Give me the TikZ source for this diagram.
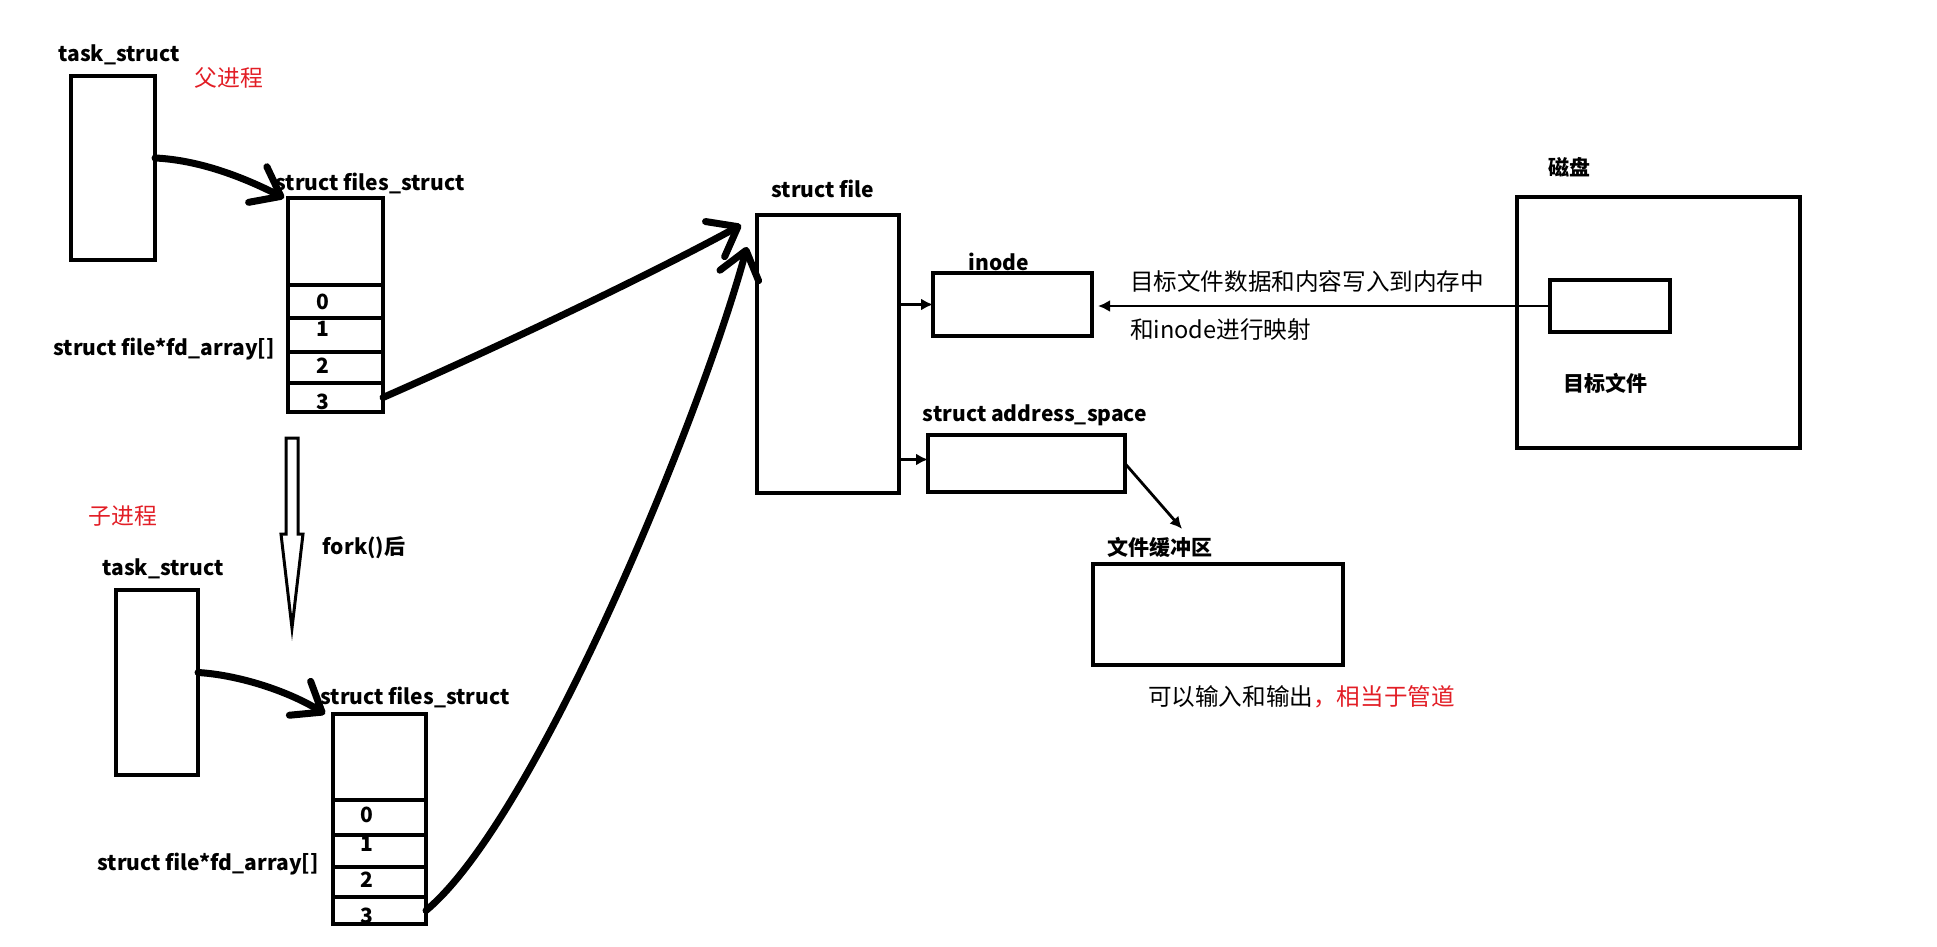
\documentclass[tikz,border=0pt]{standalone}
\usepackage{fontspec}
\setmainfont{Noto Sans CJK SC}
\usetikzlibrary{arrows.meta,positioning}
\definecolor{notered}{RGB}{226,30,38}

\begin{document}
\begin{tikzpicture}[x=0.5pt, y=-0.5pt,
	every node/.style={inner sep=0pt, outer sep=0pt},
	box/.style={draw, line width=1.8pt, anchor=north west},
	cell/.style={draw, line width=1.8pt, below=0pt of #1},
	lbl/.style={font=\bfseries\fontsize{10.5}{12}\selectfont},
	note/.style={font=\fontsize{11.8}{14}\selectfont, anchor=west},
	redlbl/.style={text=notered, font=\fontsize{11.4}{14}\selectfont},
	hand/.style={line width=3.5pt, line cap=round, line join=round, -{Straight Barb[round, length=13pt, width=20pt]}},
	thin/.style={line width=1.4pt, -{Latex[length=6pt, width=6pt]}},
	hollow/.style={line width=1.5pt, line join=miter}]
	\useasboundingbox (0,0) rectangle (1937,947);

	\node[lbl] (ts1lbl) at (119,55) {task\_struct};
	\node[box, minimum width=42pt, minimum height=92pt] (ts1) at (71,76) {};
	\node[redlbl] (parent) at (229,78) {父进程};
	\node[lbl] (fs1lbl) at (370,183) {struct files\_struct};
	\node[box, minimum width=47.5pt, minimum height=43.5pt] (fs1) at (288,198) {};
	\node[lbl] (p0n) at (323,302) {0};
	\node[lbl] (p1n) at (323,329) {1};
	\node[lbl] (p2n) at (323,366) {2};
	\node[lbl] (p3n) at (323,402) {3};
	\node[cell=fs1, minimum width=47.5pt, minimum height=16.5pt] (p0) {};
	\node[cell=p0, minimum width=47.5pt, minimum height=17pt] (p1) {};
	\node[cell=p1, minimum width=47.5pt, minimum height=15.5pt] (p2) {};
	\node[cell=p2, minimum width=47.5pt, minimum height=14.5pt] (p3) {};
	\node[lbl] (fd1lbl) at (164,349) {struct file*fd\_array[]};
	\draw[hand] ([yshift=5pt]ts1.east) .. controls (200,160) and (245,178) .. ([xshift=-2pt]fs1.north west);

	\draw[hollow] (281,534) -- (286,534) -- (286,438) -- (298,438) -- (298,534) -- (303,534) -- (292,628) -- cycle;
	\node[lbl] (forklbl) at (364,548) {fork()后};

	\node[redlbl] (child) at (123,516) {子进程};
	\node[lbl] (ts2lbl) at (163,569) {task\_struct};
	\node[box, minimum width=41pt, minimum height=92.5pt] (ts2) at (116,590) {};
	\node[lbl] (fs2lbl) at (415,697) {struct files\_struct};
	\node[box, minimum width=46.5pt, minimum height=43pt] (fs2) at (333,714) {};
	\node[lbl] (c0n) at (367,815) {0};
	\node[lbl] (c1n) at (367,844) {1};
	\node[lbl] (c2n) at (367,880) {2};
	\node[lbl] (c3n) at (367,916) {3};
	\node[cell=fs2, minimum width=46.5pt, minimum height=17.5pt] (c0) {};
	\node[cell=c0, minimum width=46.5pt, minimum height=16pt] (c1) {};
	\node[cell=c1, minimum width=46.5pt, minimum height=15pt] (c2) {};
	\node[cell=c2, minimum width=46.5pt, minimum height=13.5pt] (c3) {};
	\node[lbl] (fd2lbl) at (208,864) {struct file*fd\_array[]};
	\draw[hand] ([yshift=5pt]ts2.east) .. controls (240,675) and (290,692) .. ([xshift=-4pt]fs2.north west);

	\node[lbl] (sflbl) at (823,189) {struct file};
	\node[box, minimum width=71pt, minimum height=139pt] (sf) at (757,215) {};
	\draw[hand] (p3.east) .. controls (480,355) and (640,280) .. ([xshift=-8pt, yshift=-5pt]sf.north west);
	\draw[hand] (c3.east) .. controls (535,820) and (700,420) .. ([xshift=-5pt, yshift=-16pt]sf.north west);

	\node[lbl] (inodelbl) at (999,262) {inode};
	\node[box, minimum width=79.5pt, minimum height=31.5pt] (inode) at (933,273) {};
	\node[lbl] (aslbl) at (1035,415) {struct address\_space};
	\node[box, minimum width=98.5pt, minimum height=28.5pt] (as) at (928,435) {};
	\draw[thin] (sf.east |- inode.west) -- (inode.west);
	\draw[thin] ([yshift=2pt]sf.east |- as.west) -- ([yshift=2pt]as.west);

	\node[lbl] (buflbl) at (1160,547) {文件缓冲区};
	\node[box, minimum width=125pt, minimum height=50.5pt] (buf) at (1093,564) {};
	\draw[thin] (as.east) -- ([xshift=11pt, yshift=4pt]buflbl.north);
	\node[note] (msg3) at (1148,697) {可以输入和输出\textcolor{notered}{，相当于管道}};

	\node[lbl] (disklbl) at (1569,167) {磁盘};
	\node[box, minimum width=141.5pt, minimum height=125.5pt] (disk) at (1517,197) {};
	\node[box, minimum width=60pt, minimum height=26pt] (tf) at (1550,280) {};
	\node[lbl] (tflbl) at (1605,383) {目标文件};
	\draw[thin, line width=1.2pt, shorten >=3pt] (tf.west) -- (tf.west -| inode.east);
	\node[note] (msg1) at (1130,281) {目标文件数据和内容写入到内存中};
	\node[note] (msg2) at (1130,330) {和inode进行映射};
\end{tikzpicture}
\end{document}
